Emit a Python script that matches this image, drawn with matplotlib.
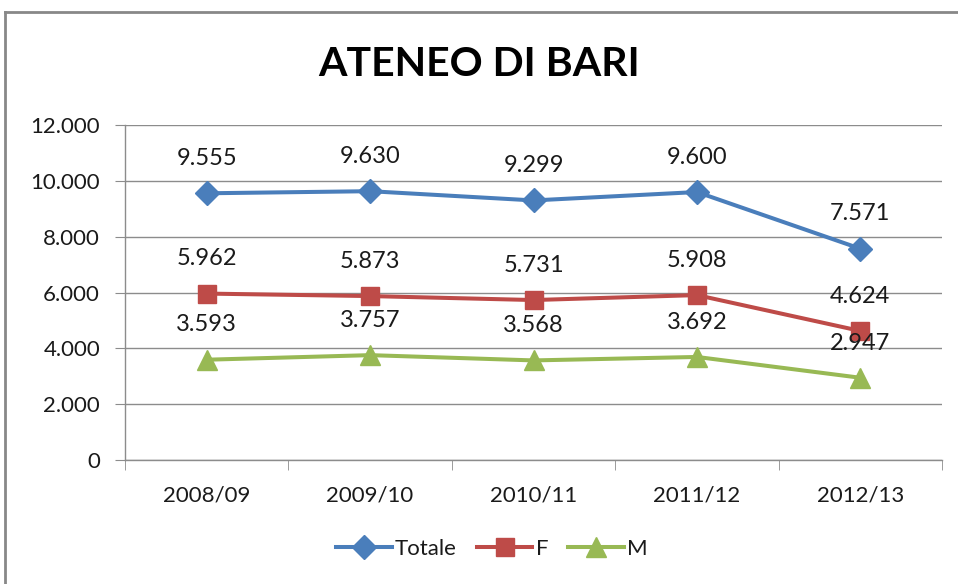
import matplotlib
matplotlib.use("Agg")
import matplotlib.pyplot as plt
from matplotlib.lines import Line2D
from matplotlib.ticker import FuncFormatter, FixedLocator

years = ["2008/09", "2009/10", "2010/11", "2011/12", "2012/13"]
totale = [9555, 9630, 9299, 9600, 7571]
femmine = [5962, 5873, 5731, 5908, 4624]
maschi = [3593, 3757, 3568, 3692, 2947]

FONT = ["Lato", "DejaVu Sans"]
plt.rcParams["font.family"] = FONT

series = [
    ("Totale", totale, "#4A7EBB", "D", 12),
    ("F", femmine, "#BE4B48", "s", 13),
    ("M", maschi, "#98B954", "^", 15),
]


def fmt(v):
    return f"{v:,.0f}".replace(",", ".")


fig = plt.figure(figsize=(9.58, 5.84), dpi=100)
ax = fig.add_axes([0.1305, 0.2123, 0.8528, 0.5736])

x = list(range(len(years)))
for name, vals, col, mk, ms in series:
    ax.plot(x, vals, color=col, lw=2.9, marker=mk, ms=ms, label=name)
    for xi, v in zip(x, vals):
        ax.annotate(fmt(v), (xi, v), xytext=(0, 25), textcoords="offset points",
                    ha="center", va="center", fontsize=17, color="#1a1a1a")

ax.set_xlim(-0.5, len(years) - 0.5)
ax.set_ylim(0, 12000)
ax.set_yticks(range(0, 12001, 2000))
ax.yaxis.set_major_formatter(FuncFormatter(lambda v, p: fmt(v)))
ax.grid(axis="y", color="#8c8c8c", lw=1.0)
ax.set_axisbelow(True)

ax.set_xticks(x)
ax.set_xticklabels(years)
ax.xaxis.set_minor_locator(FixedLocator([i - 0.5 for i in range(len(years) + 1)]))
ax.tick_params(axis="x", which="major", length=0, pad=18, labelsize=16, labelcolor="#1a1a1a")
ax.tick_params(axis="x", which="minor", length=7, color="#8c8c8c", direction="out")
ax.tick_params(axis="y", length=7, color="#8c8c8c", pad=11, labelsize=16, labelcolor="#1a1a1a")

for s in ["top", "right"]:
    ax.spines[s].set_visible(False)
for s in ["left", "bottom"]:
    ax.spines[s].set_color("#8c8c8c")
    ax.spines[s].set_linewidth(1.0)

fig.text(0.5, 1 - 65 / 584, "ATENEO DI BARI", ha="center", va="center",
         fontsize=29.5, fontweight="bold", family=FONT)

handles = [Line2D([], [], color=c, lw=2.9, marker=m, ms=ms) for _, _, c, m, ms in series]
fig.legend(handles, [s[0] for s in series], loc="center", bbox_to_anchor=(492 / 958, 1 - 549 / 584),
           ncol=3, frameon=False, fontsize=16, handlelength=2.5, handletextpad=0.15,
           columnspacing=0.9, labelcolor="#1a1a1a")

# outer chart border (gray frame, cut at right/bottom)
fig.add_artist(Line2D([5 / 958, 1], [1 - 12 / 584] * 2, color="#888888", lw=2,
                      transform=fig.transFigure))
fig.add_artist(Line2D([5 / 958] * 2, [0, 1 - 12 / 584], color="#888888", lw=2,
                      transform=fig.transFigure))

fig.savefig("out.png", dpi=100)
